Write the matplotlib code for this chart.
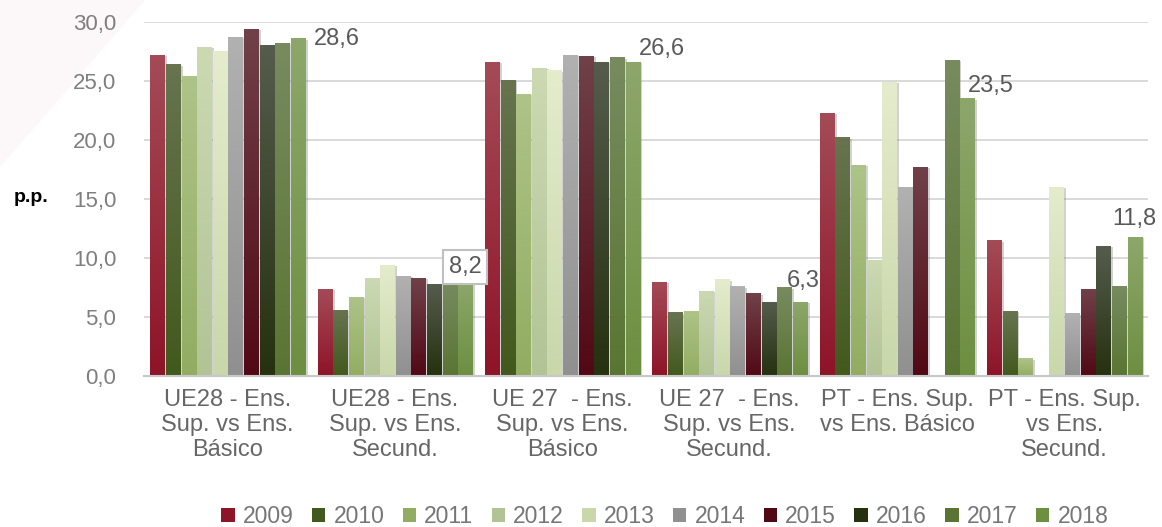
import numpy as np
import matplotlib.pyplot as plt
from matplotlib.patches import Patch, Polygon
import matplotlib.patheffects as pe
from matplotlib.colors import to_rgb

plt.rcParams['font.family'] = ['Liberation Sans', 'DejaVu Sans']

# --- dados ---
categorias = ['UE28 - Ens.\nSup. vs Ens.\nBásico',
              'UE28 - Ens.\nSup. vs Ens.\nSecund.',
              'UE 27  - Ens.\nSup. vs Ens.\nBásico',
              'UE 27  - Ens.\nSup. vs Ens.\nSecund.',
              'PT - Ens. Sup.\nvs Ens. Básico',
              'PT - Ens. Sup.\nvs Ens.\nSecund.']
anos = ['2009', '2010', '2011', '2012', '2013', '2014', '2015', '2016', '2017', '2018']

v2009 = [27.2, 7.4, 26.6, 8.0, 22.3, 11.5]
v2010 = [26.4, 5.6, 25.1, 5.4, 20.2, 5.5]
v2011 = [25.4, 6.7, 23.9, 5.5, 17.9, 1.5]
v2012 = [27.9, 8.3, 26.1, 7.2, 9.8, -0.1]
v2013 = [27.5, 9.4, 25.9, 8.2, 24.9, 16.0]
v2014 = [28.7, 8.5, 27.2, 7.6, 16.0, 5.3]
v2015 = [29.4, 8.3, 27.1, 7.0, 17.7, 7.4]
v2016 = [28.0, 7.8, 26.6, 6.3, np.nan, 11.0]
v2017 = [28.2, 8.0, 27.0, 7.5, 26.8, 7.6]
v2018 = [28.6, 8.2, 26.6, 6.3, 23.5, 11.8]
series = [v2009, v2010, v2011, v2012, v2013, v2014, v2015, v2016, v2017, v2018]

# cores (topo, base) de cada ano
cores = [('#A44B57', '#8E1428'),
         ('#67744F', '#42591D'),
         ('#AEC388', '#92AD62'),
         ('#CCD9B2', '#B2C496'),
         ('#E4ECCC', '#C9D7AB'),
         ('#B1B1B1', '#909090'),
         ('#704149', '#510915'),
         ('#555C4D', '#25310F'),
         ('#778B5F', '#5A7533'),
         ('#8DA76B', '#6D8F41')]

fig = plt.figure(figsize=(11.62, 5.27), dpi=100)
fig.patches.append(Polygon([(0, 1), (145 / 1162, 1), (0, 1 - 167 / 527)],
                           closed=True, transform=fig.transFigure,
                           facecolor='#FCF7F8', edgecolor='none', zorder=-1))
ax = fig.add_axes([0.1239, 0.2865, 0.8640, 0.6723])

slot = 0.0933
largura = 0.084
x = np.arange(len(categorias))

for i, vals in enumerate(series):
    topo, base = cores[i]
    grad = np.linspace(0, 1, 64)[:, None, None]
    img = (1 - grad) * np.array(to_rgb(topo)) + grad * np.array(to_rgb(base))
    pos = x + (i - 4.5) * slot
    bars = ax.bar(pos, vals, width=largura, color=base, zorder=2,
                  path_effects=[pe.SimplePatchShadow(offset=(2, -1), shadow_rgbFace='#808080', alpha=0.35),
                                pe.Normal()])
    for b, v in zip(bars, vals):
        if np.isnan(v):
            continue
        x0 = b.get_x()
        y0, y1 = (0, v) if v >= 0 else (v, 0)
        im = ax.imshow(img, extent=(x0, x0 + largura, y0, y1), aspect='auto',
                       origin='upper', zorder=3, interpolation='bilinear')
        im.set_clip_path(b)

ax.set_xlim(-0.5, 5.5)
ax.set_ylim(0, 30)
ax.set_yticks(np.arange(0, 31, 5))
ax.set_yticklabels([f'{t:.1f}'.replace('.', ',') for t in np.arange(0, 31, 5)])
ax.set_xticks(x)
ax.set_xticklabels(categorias)
ax.tick_params(axis='x', length=0, pad=9, labelsize=17, labelcolor='#666666')
ax.tick_params(axis='y', length=0, pad=20, labelsize=16, labelcolor='#7F7F7F')
ax.grid(axis='y', color='#D9D9D9', linewidth=1.4, zorder=0)
ax.set_axisbelow(True)
for s in ['top', 'right', 'left']:
    ax.spines[s].set_visible(False)
ax.spines['bottom'].set_color('#C8C8C8')
ax.spines['bottom'].set_linewidth(1.5)
ax.spines['bottom'].set_zorder(4)

# rótulos de dados (2018)
ult = x + 4.5 * slot
desl = [(16, -1, 'left'), (0, 12, 'center'), (6, 13, 'left'),
        (3, 21, 'center'), (1, 12, 'left'), (0, 18, 'center')]
for j, (dx, dy, ha) in enumerate(desl):
    txt = f'{v2018[j]:.1f}'.replace('.', ',')
    kw = {}
    if j == 1:
        kw['bbox'] = dict(boxstyle='square,pad=0.25', facecolor='white',
                          edgecolor='#C0C0C0', linewidth=1.5)
    ax.annotate(txt, xy=(ult[j], v2018[j]), xytext=(dx, dy), textcoords='offset pixels',
                ha=ha, va='center', fontsize=17, color='#595959', zorder=6,
                annotation_clip=False, **kw)

fig.text(0.027, 0.626, 'p.p.', fontsize=14, fontweight='bold', color='black',
         ha='center', va='center')

handles = [Patch(facecolor=cores[i][1], edgecolor='none') for i in range(len(anos))]
fig.legend(handles, anos, loc='center', bbox_to_anchor=(0.572, 0.02), ncol=10,
           frameon=False, fontsize=16.5, labelcolor='#767676',
           handlelength=0.59, handleheight=0.54, handletextpad=0.36,
           columnspacing=0.79, borderaxespad=0)

fig.savefig('out.png', dpi=100)
